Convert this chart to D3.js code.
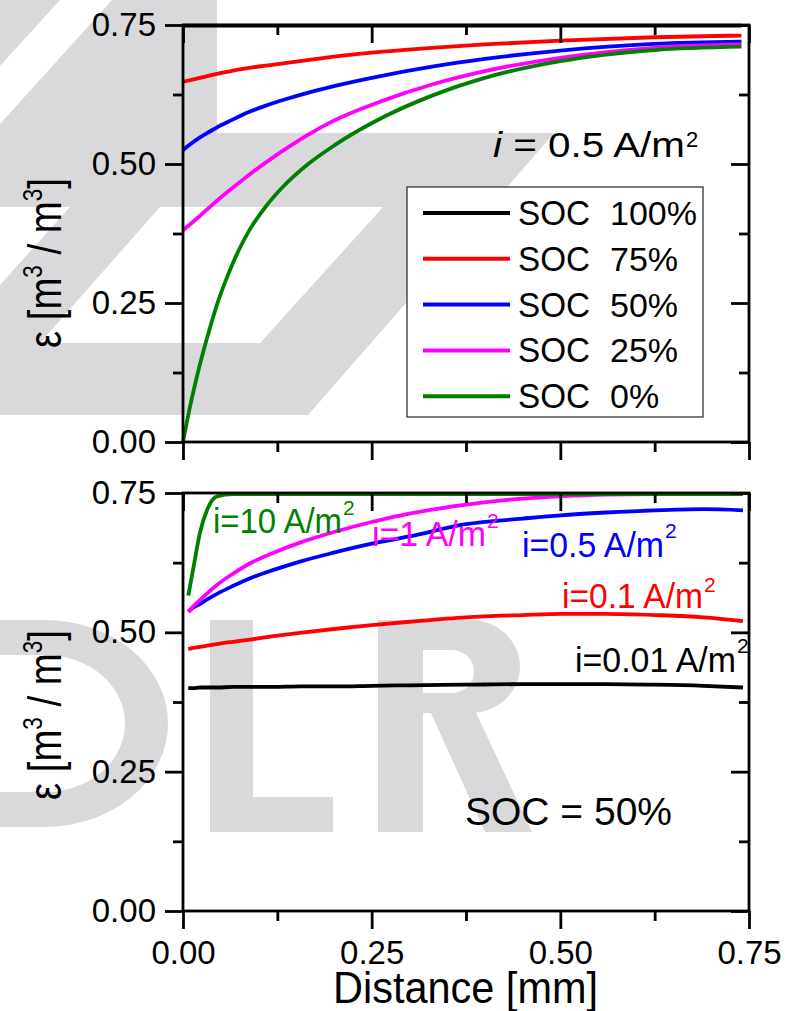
<!DOCTYPE html>
<html>
<head>
<meta charset="utf-8">
<script src="https://cdn.jsdelivr.net/npm/d3@7"></script>
<style>
  body { margin: 0; background: #fff; }
  text { font-family: "Liberation Sans", Arial, sans-serif; }
</style>
</head>
<body>
<div id="chart"></div>
<script>
// ---- data ----
var xTop = [0, 0.01, 0.0225, 0.035, 0.045, 0.06, 0.075, 0.088, 0.11, 0.1325, 0.165, 0.2, 0.265, 0.33, 0.4, 0.5, 0.625, 0.74];
var soc100 = [0.749, 0.749, 0.749, 0.749, 0.749, 0.749, 0.749, 0.749, 0.749, 0.749, 0.749, 0.749, 0.749, 0.749, 0.749, 0.749, 0.749, 0.749];
var soc75  = [0.648, 0.651, 0.655, 0.659, 0.662, 0.666, 0.670, 0.673, 0.677, 0.681, 0.687, 0.693, 0.702, 0.709, 0.715, 0.722, 0.728, 0.731];
var soc50  = [0.525, 0.536, 0.548, 0.558, 0.566, 0.576, 0.586, 0.594, 0.605, 0.615, 0.628, 0.640, 0.659, 0.675, 0.689, 0.704, 0.716, 0.720];
var soc25  = [0.381, 0.392, 0.407, 0.422, 0.434, 0.451, 0.467, 0.481, 0.503, 0.524, 0.552, 0.578, 0.614, 0.643, 0.667, 0.691, 0.709, 0.715];
var soc0   = [0.000, 0.068, 0.140, 0.202, 0.247, 0.302, 0.348, 0.381, 0.424, 0.459, 0.499, 0.533, 0.584, 0.623, 0.655, 0.685, 0.705, 0.711];
var socKeys = ["100%", "75%", "50%", "25%", "0%"];
var socColors = ["#000000", "#ff0000", "#0000ff", "#ff00ff", "#008000"];

var xBottom = [0.007, 0.0133, 0.0225, 0.032, 0.045, 0.066, 0.089, 0.12, 0.155, 0.2, 0.25, 0.3, 0.375, 0.45, 0.5, 0.56, 0.625, 0.69, 0.742];
var cur001 = [0.400, 0.400, 0.401, 0.401, 0.401, 0.402, 0.402, 0.402, 0.403, 0.403, 0.404, 0.405, 0.406, 0.407, 0.407, 0.407, 0.406, 0.404, 0.401];
var cur01  = [0.470, 0.472, 0.474, 0.476, 0.479, 0.483, 0.487, 0.493, 0.499, 0.506, 0.513, 0.519, 0.527, 0.531, 0.533, 0.533, 0.531, 0.527, 0.520];
var cur05  = [0.537, 0.544, 0.551, 0.559, 0.569, 0.583, 0.597, 0.612, 0.627, 0.643, 0.659, 0.672, 0.694, 0.704, 0.710, 0.715, 0.719, 0.721, 0.719];
var cur1   = [0.537, 0.546, 0.558, 0.570, 0.585, 0.605, 0.624, 0.643, 0.661, 0.680, 0.698, 0.713, 0.729, 0.740, 0.744, 0.747, 0.748, 0.748, 0.748];
var cur10  = [0.566, 0.612, 0.679, 0.720, 0.744, 0.748, 0.748, 0.748, 0.748, 0.748, 0.748, 0.748, 0.748, 0.748, 0.748, 0.748, 0.748, 0.748, 0.748];
var curLabels = ["i=0.01 A/m", "i=0.1 A/m", "i=0.5 A/m", "i=1 A/m", "i=10 A/m"];
var curColors = ["#000000", "#ff0000", "#0000ff", "#ff00ff", "#008000"];

var majorTicks = [0, 0.25, 0.5, 0.75];
var minorTicks = [0.125, 0.375, 0.625];

// ---- canvas ----
var svg = d3.select("#chart")
    .append("svg")
    .attr("width", 795)
    .attr("height", 1011);

// light grey DLR watermark in the background
var wm = svg.append("g").attr("fill", "#d9d9db");
var emblem = [
    [[143, 0], [217, 0], [217, 133], [143, 133]],
    [[0, 133], [554, 133], [490, 207], [0, 207]],
    [[383, 207], [490, 207], [308, 415], [195, 415]],
    [[0, 343], [300, 343], [240, 415], [0, 415]],
    [[0, 0], [60, 0], [0, 66]],
    [[112, 0], [143, 0], [143, 133], [0, 133], [0, 124]],
    [[70, 207], [160, 207], [40, 343], [0, 343], [0, 285]]
];
wm.selectAll("polygon")
    .data(emblem)
    .enter()
    .append("polygon")
    .attr("points", function (d) { return d.join(" "); });
wm.append("path")   // D
    .attr("fill-rule", "evenodd")
    .attr("d", "M-60 620 L45 620 A123 103.5 0 0 1 45 827 L-60 827 Z M-20 655 L45 655 A80 68.5 0 0 1 45 792 L-20 792 Z");
wm.append("path")   // L
    .attr("d", "M210 620 L253 620 L253 797 L333 797 L333 832 L210 832 Z");
wm.append("path")   // R
    .attr("fill-rule", "evenodd")
    .attr("d", "M378 620 L470 620 A50 46.5 0 0 1 470 713 L378 713 Z M423 650 L452 650 A22 21.5 0 0 1 452 693 L423 693 Z");
wm.append("path")
    .attr("d", "M378 700 L423 700 L423 832 L378 832 Z M425 700 L470 700 L532 832 L485 832 Z");

// ---- scales ----
var x = d3.scaleLinear().domain([0, 0.75]).range([183, 749]);
var yTop = d3.scaleLinear().domain([0, 0.75]).range([442, 25]);
var yBottom = d3.scaleLinear().domain([0, 0.75]).range([911, 493]);

var fmt = d3.format(".2f");

var drawPanel = function (y, xs, series, colors, showXLabels) {
    var g = svg.append("g");

    // curves
    series.forEach(function (s, k) {
        var line = d3.line()
            .x(function (d, i) { return x(xs[i]); })
            .y(function (d) { return y(d); })
            .curve(d3.curveMonotoneX);
        g.append("path")
            .datum(s)
            .attr("d", line)
            .attr("fill", "none")
            .attr("stroke", colors[k])
            .attr("stroke-width", 3.8);
    });

    // axes: outward on left/bottom, inward on top/right
    var axes = [
        { ax: d3.axisLeft(y), t: "translate(183,0)", size: 1, labels: true, pad: 9 },
        { ax: d3.axisRight(y), t: "translate(749,0)", size: -1, labels: false, pad: 8 },
        { ax: d3.axisBottom(x), t: "translate(0," + y(0) + ")", size: 1, labels: showXLabels, pad: 12 },
        { ax: d3.axisTop(x), t: "translate(0," + y(0.75) + ")", size: -1, labels: false, pad: 8 }
    ];
    axes.forEach(function (a) {
        var major = g.append("g")
            .attr("transform", a.t)
            .call(a.ax.tickValues(majorTicks).tickSize(18 * a.size).tickSizeOuter(0)
                .tickPadding(a.pad)
                .tickFormat(a.labels ? fmt : ""));
        major.select(".domain").remove();
        major.selectAll("line").attr("stroke-width", 2.8);
        major.selectAll("text")
            .style("font-size", "33px")
            .attr("fill", "#000");
        var minor = g.append("g")
            .attr("transform", a.t)
            .call(a.ax.tickValues(minorTicks).tickSize(10 * a.size).tickFormat(""));
        minor.select(".domain").remove();
        minor.selectAll("line").attr("stroke-width", 2.8);
    });

    // frame
    g.append("rect")
        .attr("x", x(0))
        .attr("y", y(0.75))
        .attr("width", x(0.75) - x(0))
        .attr("height", y(0) - y(0.75))
        .attr("fill", "none")
        .attr("stroke", "#000")
        .attr("stroke-width", 2.8);
    return g;
};

drawPanel(yTop, xTop, [soc100, soc75, soc50, soc25, soc0], socColors, false);
drawPanel(yBottom, xBottom, [cur001, cur01, cur05, cur1, cur10], curColors, true);

// y axis titles
var yTitle = function (yStart) {
    var t = svg.append("text")
        .attr("transform", "translate(61," + yStart + ") rotate(-90)")
        .attr("textLength", 170)
        .attr("lengthAdjust", "spacingAndGlyphs")
        .style("font-size", "46px")
        .attr("fill", "#000");
    t.append("tspan").text("\u03b5 [m");
    t.append("tspan").attr("dy", -19).style("font-size", "27px").text("3");
    t.append("tspan").attr("dy", 19).text(" / m");
    t.append("tspan").attr("dy", -19).style("font-size", "27px").text("3");
    t.append("tspan").attr("dy", 19).text("]");
};
yTitle(348);
yTitle(800);

// x axis title
svg.append("text")
    .attr("x", 333)
    .attr("y", 1003)
    .attr("textLength", 265)
    .attr("lengthAdjust", "spacingAndGlyphs")
    .style("font-size", "44px")
    .text("Distance [mm]");

// legend of the top panel
var legend = svg.append("g");
legend.append("rect")
    .attr("x", 407).attr("y", 187)
    .attr("width", 296).attr("height", 230)
    .attr("fill", "#fff")
    .attr("stroke", "#333")
    .attr("stroke-width", 1.3);
legend.selectAll("line")
    .data(socKeys)
    .enter()
    .append("line")
    .attr("x1", 423).attr("x2", 510)
    .attr("y1", function (d, i) { return 213 + i * 45.8; })  // 45.8 px between rows
    .attr("y2", function (d, i) { return 213 + i * 45.8; })
    .attr("stroke", function (d, i) { return socColors[i]; })
    .attr("stroke-width", 4);
legend.selectAll("text.soc")
    .data(socKeys)
    .enter()
    .append("text")
    .attr("x", 518)
    .attr("y", function (d, i) { return 225 + i * 45.8; })
    .attr("textLength", 72)
    .attr("lengthAdjust", "spacingAndGlyphs")
    .style("font-size", "35px")
    .text("SOC");
legend.selectAll("text.pct")
    .data(socKeys)
    .enter()
    .append("text")
    .attr("x", 610)
    .attr("y", function (d, i) { return 225 + i * 45.8; })
    .style("font-size", "34px")
    .text(function (d) { return d; });

// annotation: i = 0.5 A/m2
var note = svg.append("text")
    .attr("x", 493).attr("y", 157)
    .attr("textLength", 192)
    .attr("lengthAdjust", "spacingAndGlyphs")
    .style("font-size", "35px");
note.append("tspan").style("font-style", "italic").text("i");
note.append("tspan").text(" = 0.5 A/m");
svg.append("text").attr("x", 686).attr("y", 147).style("font-size", "22px").text("2");

// curve labels in the bottom panel: [start x, end x, baseline, superscript baseline]
var labelPos = [[575, 736, 672, 653], [562, 703, 608, 592], [522, 664, 557, 538], [372, 486, 546, 528], [213, 342, 533, 515]];
curLabels.forEach(function (d, i) {
    var p = labelPos[i];
    svg.append("text")
        .attr("x", p[0]).attr("y", p[2])
        .attr("textLength", p[1] - p[0])
        .attr("lengthAdjust", "spacingAndGlyphs")
        .attr("fill", curColors[i])
        .style("font-size", "35px")
        .text(d);
    svg.append("text")
        .attr("x", p[1] + 1).attr("y", p[3])
        .attr("fill", curColors[i])
        .style("font-size", "21px")
        .text("2");
});

svg.append("text")
    .attr("x", 465).attr("y", 825)
    .attr("textLength", 207)
    .attr("lengthAdjust", "spacingAndGlyphs")
    .style("font-size", "39px")
    .text("SOC = 50%");
</script>
</body>
</html>
